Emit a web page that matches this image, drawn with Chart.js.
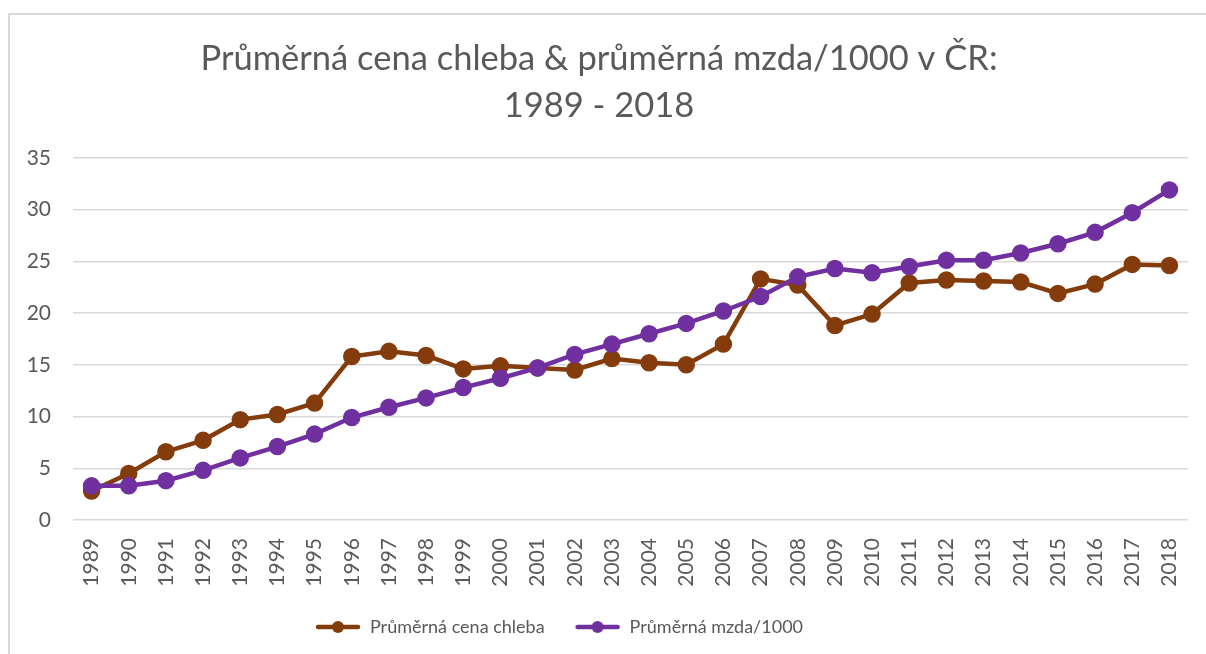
<!DOCTYPE html>
<html>
<head>
<meta charset="utf-8">
<script src="https://cdn.jsdelivr.net/npm/chart.js@4"></script>
<style>
    body { margin: 0; background: #fff; }
    #chart1 {
        position: absolute;
        left: 8px;
        top: 13px;
        width: 1198px;
        height: 641px;
        border-left: 2px solid #d9d9d9;
        border-top: 2px solid #d9d9d9;
    }
</style>
</head>
<body>
<div id="chart1"></div>
<script>
const years = ['1989', '1990', '1991', '1992', '1993', '1994', '1995', '1996', '1997', '1998',
    '1999', '2000', '2001', '2002', '2003', '2004', '2005', '2006', '2007', '2008',
    '2009', '2010', '2011', '2012', '2013', '2014', '2015', '2016', '2017', '2018'];

const breadPrice = [2.8, 4.5, 6.6, 7.7, 9.7, 10.2, 11.3, 15.8, 16.3, 15.9,
    14.6, 14.9, 14.7, 14.5, 15.6, 15.2, 15.0, 17.0, 23.3, 22.7,
    18.8, 19.9, 22.9, 23.2, 23.1, 23.0, 21.9, 22.8, 24.7, 24.6];

const wageThousands = [3.3, 3.3, 3.8, 4.8, 6.0, 7.1, 8.3, 9.9, 10.9, 11.8,
    12.8, 13.7, 14.7, 16.0, 17.0, 18.0, 19.0, 20.2, 21.6, 23.5,
    24.3, 23.9, 24.5, 25.1, 25.1, 25.8, 26.7, 27.8, 29.7, 31.9];

const yTicks = [0, 5, 10, 15, 20, 25, 30, 35];

window.addEventListener('load', () => {
    const textColor = '#595959';
    const gridColor = '#d9d9d9';

    // legend marker: short line with a dot, like the Excel legend
    const legendMarker = (color) => {
        const c = document.createElement('canvas');
        c.width = 46;
        c.height = 14;
        const g = c.getContext('2d');
        g.strokeStyle = color;
        g.lineWidth = 4.5;
        g.lineCap = 'round';
        g.beginPath();
        g.moveTo(3, 7);
        g.lineTo(43, 7);
        g.stroke();
        g.fillStyle = color;
        g.beginPath();
        g.arc(23, 7, 6, 0, Math.PI * 2);
        g.fill();
        return c;
    };

    const chart1 = document.getElementById('chart1');
    const ctx1 = document.createElement('canvas').getContext('2d');
    ctx1.canvas.width = 1196;
    ctx1.canvas.height = 639;
    chart1.appendChild(ctx1.canvas);

    const shiftLegend = {
        id: 'shiftLegend',
        afterLayout(chart) {
            chart.legend.right = 1098;
        }
    };

    new Chart(ctx1, {
        type: 'line',
        data: {
            labels: years,
            datasets: [{
                label: 'Průměrná cena chleba',
                data: breadPrice,
                borderColor: '#843C0C',
                backgroundColor: '#843C0C',
                borderWidth: 4.5,
                pointRadius: 6.5,
                pointHoverRadius: 6.5,
                pointStyle: 'circle',
                order: 1
            }, {
                label: 'Průměrná mzda/1000',
                data: wageThousands,
                borderColor: '#7030A0',
                backgroundColor: '#7030A0',
                borderWidth: 4.5,
                pointRadius: 6.5,
                pointHoverRadius: 6.5,
                pointStyle: 'circle',
                order: 0
            }]
        },
        options: {
            responsive: false,
            animation: false,
            layout: { padding: { left: 0, right: 18, top: 0, bottom: 8 } },
            plugins: {
                title: {
                    display: true,
                    text: ['Průměrná cena chleba & průměrná mzda/1000 v ČR:', '1989 - 2018'],
                    color: textColor,
                    font: { family: 'Lato', size: 34.5, weight: 'normal', lineHeight: 1.36 },
                    padding: { top: 20, bottom: 29 }
                },
                legend: {
                    position: 'bottom',
                    labels: {
                        color: textColor,
                        font: { family: 'Lato', size: 18 },
                        usePointStyle: true,
                        pointStyleWidth: 46,
                        padding: 30,
                        sort: (a, b) => a.datasetIndex - b.datasetIndex,
                        generateLabels: (chart) => chart.data.datasets.map((ds, i) => ({
                            text: ds.label,
                            fontColor: textColor,
                            pointStyle: legendMarker(ds.borderColor),
                            lineWidth: 0,
                            datasetIndex: i
                        }))
                    }
                },
                tooltip: { enabled: false }
            },
            scales: {
                x: {
                    offset: true,
                    grid: { display: false, drawTicks: false },
                    border: { display: false },
                    ticks: {
                        color: textColor,
                        font: { family: 'Lato', size: 21 },
                        minRotation: 90,
                        maxRotation: 90,
                        autoSkip: false,
                        padding: 18
                    },
                    afterFit: (scale) => {
                        scale.height = 68;
                        scale.paddingLeft = 0;
                        scale.paddingRight = 0;
                    }
                },
                y: {
                    min: yTicks[0],
                    max: yTicks[yTicks.length - 1],
                    afterBuildTicks: (scale) => { scale.ticks = yTicks.map(v => ({ value: v })); },
                    grid: { color: gridColor, lineWidth: 1.5, drawTicks: false },
                    border: { display: false },
                    ticks: {
                        color: textColor,
                        font: { family: 'Lato', size: 21 },
                        padding: 22
                    },
                    afterFit: (scale) => { scale.width = 63; }
                }
            }
        },
        plugins: [shiftLegend]
    });
});
</script>
</body>
</html>
